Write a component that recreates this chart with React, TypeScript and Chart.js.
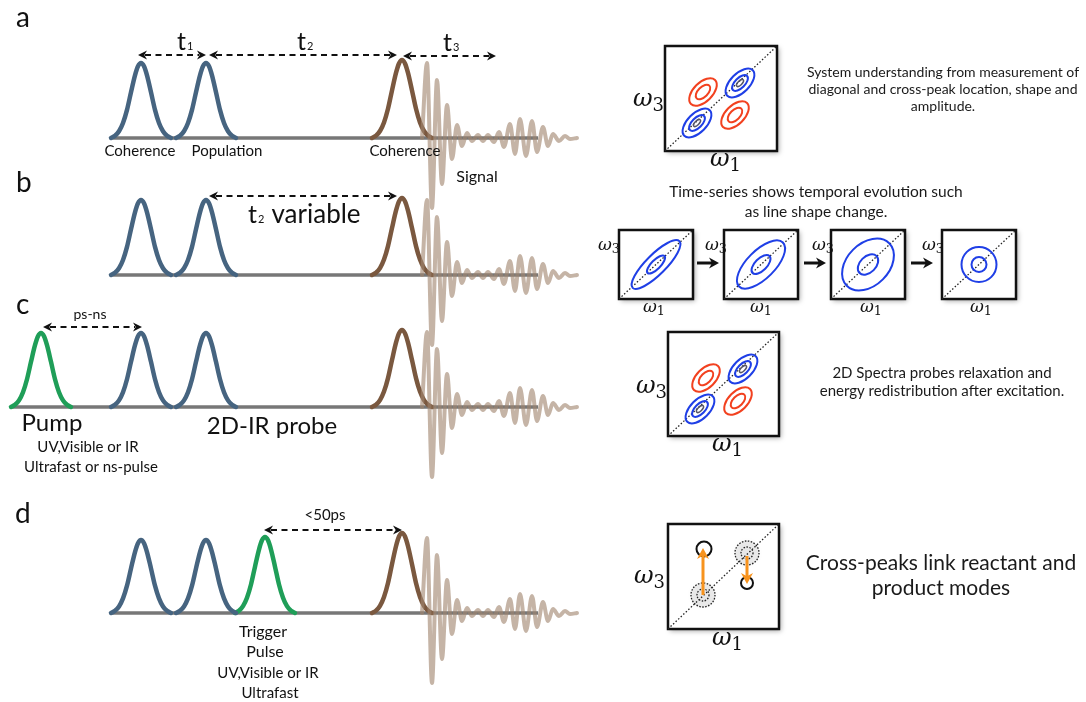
import React, { useEffect, useRef } from "react";
import { Chart, registerables } from "chart.js";

Chart.register(...registerables);

const WIDTH = 1086;
const HEIGHT = 702;
const SANS = '"Lato", "Open Sans", sans-serif';
const SERIF = '"DejaVu Serif", "Liberation Serif", serif';

// ---------- left: pulse sequences ----------
const panelLetters = ["a", "b", "c", "d"];
const letterX = [16, 16, 16, 15];
const letterY = [27, 192, 314, 523];

const baselineY = [138, 275, 407, 613];
const baselineStartX = [112, 112, 10, 112];
const baselineEndX = [538, 538, 538, 538];

const pulseX = [
  [141, 206, 402],
  [141, 206, 402],
  [41, 141, 206, 402],
  [141, 206, 265, 402],
];
const pulseKind = [
  ["ir", "ir", "lo"],
  ["ir", "ir", "lo"],
  ["pump", "ir", "ir", "lo"],
  ["ir", "ir", "pump", "lo"],
];
const pulseHeight = [
  [75, 75, 78],
  [75, 75, 77],
  [74, 74, 74, 77],
  [73, 73, 76, 80],
];

const pulseDX = [-30, -26, -22, -18, -14, -10, -6, -3, 0, 3, 6, 10, 14, 18, 22, 26, 30];
const pulseFrac = [0, 0.03, 0.09, 0.2, 0.375, 0.61, 0.835, 0.956, 1, 0.956, 0.835, 0.61, 0.375, 0.2, 0.09, 0.03, 0];

// emitted signal, extrema (offset from baseline)
const signalX = [422, 427, 432, 437, 442, 447, 452, 457, 462, 467, 472, 478, 483, 488, 494, 499, 504, 510, 515, 520, 526, 532, 537, 543, 548, 553, 559, 565, 570, 577];
const signalDY = [0, -75, 70, -58, 46, -33, 21, -13, 8, -5, 3, -3, 3, -3, 4, -6, 9, -14, 16, -19, 18, -17, 14, -11, 8, -4, 3, -2, 1, 0];

// dashed double arrows
const dashArrowX0 = [138, 209, 403, 209, 43, 264];
const dashArrowX1 = [206, 397, 496, 397, 142, 402];
const dashArrowY = [55, 55, 56, 196, 327, 530];

// time labels t1 t2 t3 t2
const tLabelX = [177, 297, 443, 248];
const tLabelY = [50, 50, 51, 223];
const tLabelSub = ["1", "2", "3", "2"];

const leftText = ["Coherence", "Population", "Coherence", "Signal", "variable", "ps-ns", "Pump", "UV,Visible or IR", "Ultrafast or ns-pulse", "2D-IR probe", "<50ps", "Trigger", "Pulse", "UV,Visible or IR", "Ultrafast"];
const leftTextX = [140, 227, 405, 477, 316, 90, 52, 88, 91, 272, 325, 263, 265, 268, 270];
const leftTextY = [151, 151, 151, 177, 215, 314, 423, 447, 467, 426, 515, 632, 652, 673, 693];
const leftTextSize = [15, 15, 15, 16, 26, 14, 24, 15, 15, 24, 15, 16, 16, 15, 15];

// ---------- right: 2D spectra ----------
const bigBoxX0 = [665, 668, 668];
const bigBoxY0 = [46, 332, 524];
const bigBoxX1 = [777, 779, 779];
const bigBoxY1 = [151, 436, 629];

const peakDX = [38, 75, 32, 70];
const peakDY = [46, 37, 77, 69];
const peakKind = ["cross", "diag", "diag", "cross"];

const smallBoxX0 = [619, 724, 831, 942];
const smallBoxY0 = [230, 230, 230, 230];
const smallBoxW = [74, 74, 74, 74];
const smallBoxH = [69, 69, 69, 69];
const smallOuterA = [33, 31, 30, 17.5];
const smallOuterB = [10, 14, 21, 17.5];
const smallInnerA = [12, 12, 12, 7.5];
const smallInnerB = [4.5, 6, 8, 7.5];
const stepArrowX0 = [697, 804, 911];
const stepArrowX1 = [719, 826, 933];
const stepArrowY = [263, 263, 263];

const solidCircleDX = [36, 79];
const solidCircleDY = [25, 59];
const solidCircleR = [7.5, 6];
const dottedCircleDX = [35, 79];
const dottedCircleDY = [71, 29];
const transferFromDY = [71, 32];
const transferToDY = [24, 60];

const rightText = ["System understanding from measurement of", "diagonal and cross-peak location, shape and", "amplitude.", "Time-series shows temporal evolution such", "as line shape change.", "2D Spectra probes relaxation and", "energy redistribution after excitation.", "Cross-peaks link reactant and", "product modes"];
const rightTextX = [943, 943, 943, 816, 816, 942, 942, 941, 941];
const rightTextY = [72, 89, 106, 192, 212, 373, 391, 563, 588];
const rightTextSize = [14, 14, 14, 15.5, 15.5, 15, 15, 21, 21];

const bigOmega3X = [633, 636, 634];
const bigOmega3Y = [106, 393, 583];
const bigOmega1X = [710, 712, 712];
const bigOmega1Y = [166, 451, 645];
const smallOmega3X = [598, 705, 812, 922];
const smallOmega1X = [643, 750, 860, 970];

const COLORS: Record<string, string> = {
  ir: "#466480",
  lo: "#7a583f",
  pump: "#1f9e58",
  signal: "rgba(162,134,112,0.62)",
  base: "rgba(95,95,95,0.85)",
  blue: "#1f3fe6",
  red: "#f2411f",
  orange: "#f7931e",
};

function buildDatasets() {
  const ds: any[] = [];
  for (let p = 0; p < 4; p++) {
    ds.push({
      data: [
        { x: baselineStartX[p], y: baselineY[p] },
        { x: baselineEndX[p], y: baselineY[p] },
      ],
      borderColor: COLORS.base,
      borderWidth: 3.5,
      order: 10,
    });
    pulseX[p].forEach((cx, i) => {
      ds.push({
        data: pulseDX.map((dx, k) => ({ x: cx + dx, y: baselineY[p] - pulseFrac[k] * pulseHeight[p][i] })),
        borderColor: COLORS[pulseKind[p][i]],
        borderWidth: 4.5,
        cubicInterpolationMode: "monotone",
        borderCapStyle: "round",
        order: 8,
      });
    });
    ds.push({
      data: signalX.map((x, k) => ({ x, y: baselineY[p] + signalDY[k] })),
      borderColor: COLORS.signal,
      borderWidth: 4,
      cubicInterpolationMode: "monotone",
      borderCapStyle: "round",
      order: 6,
    });
  }
  dashArrowX0.forEach((x0, i) => {
    ds.push({
      data: [
        { x: x0 + 7, y: dashArrowY[i] },
        { x: dashArrowX1[i] - 7, y: dashArrowY[i] },
      ],
      borderColor: "#111",
      borderWidth: 2,
      borderDash: [6, 4.5],
      order: 4,
    });
  });
  bigBoxX0.forEach((x0, i) => {
    ds.push({
      data: [
        { x: x0, y: bigBoxY1[i] },
        { x: bigBoxX1[i], y: bigBoxY0[i] },
      ],
      borderColor: "#222",
      borderWidth: 1.3,
      borderDash: [1.5, 2],
      order: 4,
    });
  });
  smallBoxX0.forEach((x0, i) => {
    ds.push({
      data: [
        { x: x0, y: smallBoxY0[i] + smallBoxH[i] },
        { x: x0 + smallBoxW[i], y: smallBoxY0[i] },
      ],
      borderColor: "#222",
      borderWidth: 1.3,
      borderDash: [1.5, 2],
      order: 4,
    });
  });
  return ds;
}

function arrowHead(ctx: CanvasRenderingContext2D, tx: number, ty: number, dx: number, dy: number, len: number, half: number) {
  const bx = tx - dx * len;
  const by = ty - dy * len;
  const px = -dy;
  const py = dx;
  ctx.beginPath();
  ctx.moveTo(tx, ty);
  ctx.lineTo(bx + px * half, by + py * half);
  ctx.lineTo(bx + dx * len * 0.3, by + dy * len * 0.3);
  ctx.lineTo(bx - px * half, by - py * half);
  ctx.closePath();
  ctx.fill();
}

const diagramPlugin = {
  id: "diagram",
  beforeDatasetsDraw(chart: any) {
    const ctx: CanvasRenderingContext2D = chart.ctx;
    const X = (v: number) => chart.scales.x.getPixelForValue(v);
    const Y = (v: number) => chart.scales.y.getPixelForValue(v);
    const rect = (x0: number, y0: number, x1: number, y1: number) => {
      ctx.save();
      ctx.shadowColor = "rgba(0,0,0,0.35)";
      ctx.shadowBlur = 5;
      ctx.shadowOffsetX = 2;
      ctx.shadowOffsetY = 2;
      ctx.fillStyle = "#fff";
      ctx.fillRect(X(x0), Y(y0), X(x1) - X(x0), Y(y1) - Y(y0));
      ctx.restore();
      ctx.save();
      ctx.strokeStyle = "#111";
      ctx.lineWidth = 2.5;
      ctx.strokeRect(X(x0), Y(y0), X(x1) - X(x0), Y(y1) - Y(y0));
      ctx.restore();
    };
    bigBoxX0.forEach((x0, i) => rect(x0, bigBoxY0[i], bigBoxX1[i], bigBoxY1[i]));
    smallBoxX0.forEach((x0, i) => rect(x0, smallBoxY0[i], x0 + smallBoxW[i], smallBoxY0[i] + smallBoxH[i]));
  },
  afterDatasetsDraw(chart: any) {
    const ctx: CanvasRenderingContext2D = chart.ctx;
    const X = (v: number) => chart.scales.x.getPixelForValue(v);
    const Y = (v: number) => chart.scales.y.getPixelForValue(v);
    const S = X(1) - X(0);
    ctx.save();

    // dashed arrow heads
    ctx.fillStyle = "#111";
    dashArrowX0.forEach((x0, i) => {
      arrowHead(ctx, X(x0), Y(dashArrowY[i]), -1, 0, 9 * S, 4.5 * S);
      arrowHead(ctx, X(dashArrowX1[i]), Y(dashArrowY[i]), 1, 0, 9 * S, 4.5 * S);
    });

    // panel letters
    ctx.fillStyle = "#111";
    ctx.textBaseline = "alphabetic";
    ctx.textAlign = "left";
    ctx.font = `28px ${SANS}`;
    panelLetters.forEach((l, i) => ctx.fillText(l, X(letterX[i]), Y(letterY[i])));

    // t labels
    tLabelX.forEach((x, i) => {
      ctx.font = `25px ${SANS}`;
      ctx.fillText("t", X(x), Y(tLabelY[i]));
      const w = ctx.measureText("t").width;
      ctx.font = `11px ${SANS}`;
      ctx.fillText(tLabelSub[i], X(x) + w + 1, Y(tLabelY[i]));
    });

    // left texts
    ctx.textAlign = "center";
    ctx.textBaseline = "middle";
    leftText.forEach((t, i) => {
      ctx.font = `${leftTextSize[i]}px ${SANS}`;
      ctx.fillText(t, X(leftTextX[i]), Y(leftTextY[i]));
    });

    // right texts
    ctx.fillStyle = "#1a1a1a";
    rightText.forEach((t, i) => {
      ctx.font = `${rightTextSize[i]}px ${SANS}`;
      ctx.fillText(t, X(rightTextX[i]), Y(rightTextY[i]));
    });

    // omega labels
    const omega = (x: number, y: number, sub: string, size: number) => {
      ctx.textAlign = "left";
      ctx.textBaseline = "alphabetic";
      ctx.fillStyle = "#111";
      ctx.font = `italic ${size}px ${SERIF}`;
      ctx.fillText("\u03c9", X(x), Y(y));
      const w = ctx.measureText("\u03c9").width;
      ctx.font = `${size * 0.75}px ${SERIF}`;
      ctx.fillText(sub, X(x) + w, Y(y) + size * 0.2);
    };
    bigOmega3X.forEach((x, i) => omega(x, bigOmega3Y[i], "3", 24));
    bigOmega1X.forEach((x, i) => omega(x, bigOmega1Y[i], "1", 24));
    smallOmega3X.forEach((x) => omega(x, 250, "3", 17));
    smallOmega1X.forEach((x) => omega(x, 312, "1", 17));

    // spectra contours
    const ell = (cx: number, cy: number, a: number, b: number, color: string, lw: number) => {
      ctx.beginPath();
      ctx.ellipse(X(cx), Y(cy), a * S, b * S, -Math.PI / 4, 0, Math.PI * 2);
      ctx.strokeStyle = color;
      ctx.lineWidth = lw;
      ctx.stroke();
    };
    [0, 1].forEach((bi) => {
      peakDX.forEach((dx, k) => {
        const cx = bigBoxX0[bi] + dx;
        const cy = bigBoxY0[bi] + peakDY[k];
        if (peakKind[k] === "cross") {
          ell(cx, cy, 17, 9.5, COLORS.red, 2);
          ell(cx, cy, 9, 5, COLORS.red, 2);
        } else {
          ell(cx, cy, 18, 9.5, COLORS.blue, 2);
          ell(cx, cy, 10, 5, COLORS.blue, 2);
          ell(cx, cy, 4.5, 2, "#556", 1.5);
        }
      });
    });
    smallBoxX0.forEach((x0, i) => {
      const cx = x0 + smallBoxW[i] / 2;
      const cy = smallBoxY0[i] + smallBoxH[i] / 2;
      ell(cx, cy, smallOuterA[i], smallOuterB[i], COLORS.blue, 2);
      ell(cx, cy, smallInnerA[i], smallInnerB[i], COLORS.blue, 2);
    });

    // step arrows
    ctx.fillStyle = "#111";
    ctx.strokeStyle = "#111";
    stepArrowX0.forEach((x0, i) => {
      ctx.beginPath();
      ctx.lineWidth = 3;
      ctx.moveTo(X(x0), Y(stepArrowY[i]));
      ctx.lineTo(X(stepArrowX1[i]) - 6, Y(stepArrowY[i]));
      ctx.stroke();
      arrowHead(ctx, X(stepArrowX1[i]), Y(stepArrowY[i]), 1, 0, 10 * S, 5.5 * S);
    });

    // panel d spectrum
    const bx = bigBoxX0[2];
    const by = bigBoxY0[2];
    dottedCircleDX.forEach((dx, i) => {
      const cx = X(bx + dx);
      const cy = Y(by + dottedCircleDY[i]);
      ctx.save();
      ctx.shadowColor = "rgba(0,0,0,0.35)";
      ctx.shadowBlur = 6;
      ctx.fillStyle = "rgba(0,0,0,0.07)";
      ctx.beginPath();
      ctx.arc(cx, cy, 12.5 * S, 0, Math.PI * 2);
      ctx.fill();
      ctx.restore();
      ctx.save();
      ctx.setLineDash([1.5, 1.5]);
      ctx.lineWidth = 1.3;
      ctx.strokeStyle = "#222";
      [12, 6].forEach((r) => {
        ctx.beginPath();
        ctx.arc(cx, cy, r * S, 0, Math.PI * 2);
        ctx.stroke();
      });
      ctx.restore();
    });
    solidCircleDX.forEach((dx, i) => {
      ctx.beginPath();
      ctx.arc(X(bx + dx), Y(by + solidCircleDY[i]), solidCircleR[i] * S, 0, Math.PI * 2);
      ctx.lineWidth = 2;
      ctx.strokeStyle = "#111";
      ctx.stroke();
    });
    ctx.strokeStyle = COLORS.orange;
    ctx.fillStyle = COLORS.orange;
    dottedCircleDX.forEach((dx, i) => {
      const x = X(bx + dx);
      const y0 = Y(by + transferFromDY[i]);
      const y1 = Y(by + transferToDY[i]);
      const dir = y1 > y0 ? 1 : -1;
      ctx.beginPath();
      ctx.lineWidth = 3;
      ctx.moveTo(x, y0);
      ctx.lineTo(x, y1 - dir * 6);
      ctx.stroke();
      arrowHead(ctx, x, y1, 0, dir, 11 * S, 6 * S);
    });

    ctx.restore();
  },
};

export default function App() {
  const ref = useRef<HTMLCanvasElement>(null);
  useEffect(() => {
    document.body.style.margin = "0";
    const canvas = ref.current;
    if (!canvas) return;
    const chart = new Chart(canvas, {
      type: "scatter",
      data: { datasets: buildDatasets() },
      options: {
        animation: false,
        responsive: false,
        maintainAspectRatio: false,
        showLine: true,
        layout: { padding: 0 },
        elements: { point: { radius: 0, hoverRadius: 0 }, line: { fill: false } },
        scales: {
          x: { type: "linear", min: 0, max: WIDTH, display: false },
          y: { type: "linear", min: 0, max: HEIGHT, reverse: true, display: false },
        },
        plugins: { legend: { display: false }, tooltip: { enabled: false } },
        events: [],
      } as any,
      plugins: [diagramPlugin],
    });
    return () => chart.destroy();
  }, []);
  return (
    <canvas
      ref={ref}
      width={WIDTH}
      height={HEIGHT}
      style={{ display: "block", width: WIDTH, height: HEIGHT, background: "#fff" }}
    />
  );
}
